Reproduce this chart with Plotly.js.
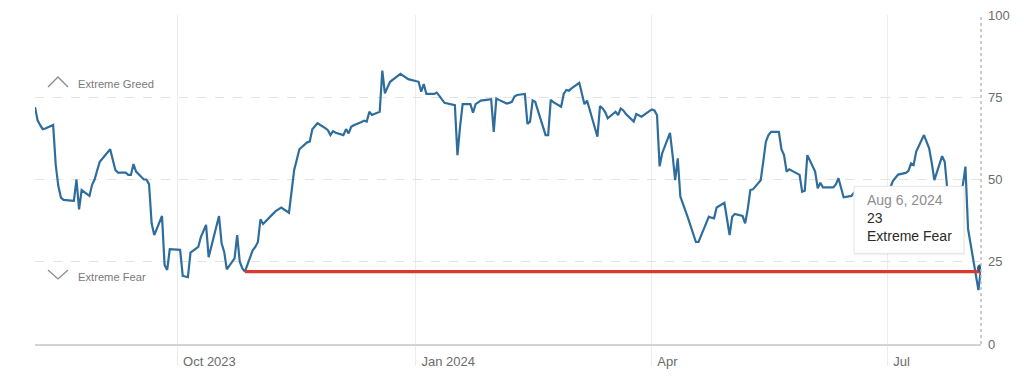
<!DOCTYPE html>
<html>
<head>
<meta charset="utf-8">
<script src="https://cdn.plot.ly/plotly-3.0.1.min.js"></script>
<style>
  html, body { margin: 0; padding: 0; background: #ffffff; }
  #chart { width: 1024px; height: 380px; }
</style>
</head>
<body>
<div id="chart"></div>
<script>
// ---- Data ----
const dates = [
  "2023-08-07","2023-08-08","2023-08-09","2023-08-10","2023-08-11","2023-08-14","2023-08-15","2023-08-16","2023-08-17","2023-08-18",
  "2023-08-21","2023-08-22","2023-08-23","2023-08-24","2023-08-25","2023-08-28","2023-08-29","2023-08-30","2023-08-31","2023-09-01",
  "2023-09-05","2023-09-06","2023-09-07","2023-09-08","2023-09-11","2023-09-12","2023-09-13","2023-09-14","2023-09-15","2023-09-18",
  "2023-09-19","2023-09-20","2023-09-21","2023-09-22","2023-09-25","2023-09-26","2023-09-27","2023-09-28","2023-09-29","2023-10-02",
  "2023-10-03","2023-10-04","2023-10-05","2023-10-06","2023-10-09","2023-10-10","2023-10-11","2023-10-12","2023-10-13","2023-10-16",
  "2023-10-17","2023-10-18","2023-10-19","2023-10-20","2023-10-23","2023-10-24","2023-10-25","2023-10-26","2023-10-27","2023-10-30",
  "2023-10-31","2023-11-01","2023-11-02","2023-11-03","2023-11-06","2023-11-07","2023-11-08","2023-11-09","2023-11-10","2023-11-13",
  "2023-11-14","2023-11-15","2023-11-16","2023-11-17","2023-11-20","2023-11-21","2023-11-22","2023-11-24","2023-11-27","2023-11-28",
  "2023-11-29","2023-11-30","2023-12-01","2023-12-04","2023-12-05","2023-12-06","2023-12-07","2023-12-08","2023-12-11","2023-12-12",
  "2023-12-13","2023-12-14","2023-12-15","2023-12-18","2023-12-19","2023-12-20","2023-12-21","2023-12-22","2023-12-26","2023-12-27",
  "2023-12-28","2023-12-29","2024-01-02","2024-01-03","2024-01-04","2024-01-05","2024-01-08","2024-01-09","2024-01-10","2024-01-11",
  "2024-01-12","2024-01-16","2024-01-17","2024-01-18","2024-01-19","2024-01-22","2024-01-23","2024-01-24","2024-01-25","2024-01-26",
  "2024-01-29","2024-01-30","2024-01-31","2024-02-01","2024-02-02","2024-02-05","2024-02-06","2024-02-07","2024-02-08","2024-02-09",
  "2024-02-12","2024-02-13","2024-02-14","2024-02-15","2024-02-16","2024-02-20","2024-02-21","2024-02-22","2024-02-23","2024-02-26",
  "2024-02-27","2024-02-28","2024-02-29","2024-03-01","2024-03-04","2024-03-05","2024-03-06","2024-03-07","2024-03-08","2024-03-11",
  "2024-03-12","2024-03-13","2024-03-14","2024-03-15","2024-03-18","2024-03-19","2024-03-20","2024-03-21","2024-03-22","2024-03-25",
  "2024-03-26","2024-03-27","2024-03-28","2024-04-01","2024-04-02","2024-04-03","2024-04-04","2024-04-05","2024-04-08","2024-04-09",
  "2024-04-10","2024-04-11","2024-04-12","2024-04-15","2024-04-16","2024-04-17","2024-04-18","2024-04-19","2024-04-22","2024-04-23",
  "2024-04-24","2024-04-25","2024-04-26","2024-04-29","2024-04-30","2024-05-01","2024-05-02","2024-05-03","2024-05-06","2024-05-07",
  "2024-05-08","2024-05-09","2024-05-10","2024-05-13","2024-05-14","2024-05-15","2024-05-16","2024-05-17","2024-05-20","2024-05-21",
  "2024-05-22","2024-05-23","2024-05-24","2024-05-28","2024-05-29","2024-05-30","2024-05-31","2024-06-03","2024-06-04","2024-06-05",
  "2024-06-06","2024-06-07","2024-06-10","2024-06-11","2024-06-12","2024-06-13","2024-06-14","2024-06-17","2024-06-18","2024-06-20",
  "2024-06-21","2024-06-24","2024-06-25","2024-06-26","2024-06-27","2024-06-28","2024-07-01","2024-07-02","2024-07-03","2024-07-05",
  "2024-07-08","2024-07-09","2024-07-10","2024-07-11","2024-07-12","2024-07-15","2024-07-16","2024-07-17","2024-07-18","2024-07-19",
  "2024-07-22","2024-07-23","2024-07-24","2024-07-25","2024-07-26","2024-07-29","2024-07-30","2024-07-31","2024-08-01","2024-08-02",
  "2024-08-05","2024-08-06"
];
const scores = [
  72,68,66.5,65.3,65.5,66.6,54.4,48,44.5,43.8,
  43.6,43.5,50,40.9,46.8,45,48.3,50,52.8,55.4,
  59.2,56,52.9,52.1,52.1,51.4,51.4,54.7,52.4,50,
  50,48.6,36.7,33.1,38.9,24,22.5,28.8,28.7,28.6,
  20.7,20.5,20.3,27.8,29.5,32.5,34.5,36.2,26.4,36,
  38.9,30.6,28,22.7,26,33.1,25,23,22,28.5,
  29.5,31,37.9,36.5,38.7,39.7,40.5,41,41.5,39.9,
  46.5,52.9,56,59.2,61.3,61.5,65.3,67.1,65.6,65,
  63.5,64.7,64.2,63.5,65.3,64,66,66.5,67.5,67.9,
  67.6,70.6,69.6,70.6,83.1,76.2,78,79.7,82.1,81.6,
  81,80.5,79.7,76.7,79,76,76,76.4,75.4,74.3,
  73.3,72.6,57.4,66,72.9,72.9,70.3,72.9,73.5,74,
  74.3,74.4,64.5,74.6,74.2,73.1,73.3,73.6,75.2,75.7,
  76,66.9,67.6,74,73.6,63.5,63.5,74.2,73.5,72.1,
  76,77.2,77,77.7,79.4,76,72.9,74,71.1,63,
  72.3,71.6,70.5,68.6,70.6,69.6,71.6,71,69.9,67.6,
  69.9,69.5,69.1,71.3,71,69.5,54,58,64.2,57.5,
  49.8,56.4,44.8,38.2,36,33.5,31,31,37,38.7,
  38.4,38.2,41.5,42.9,38,33.1,38.7,39.5,38.9,36.7,
  41,46.8,47,49.8,55.5,61.5,63.5,64.5,64.5,59.2,
  57.4,52.4,53.1,51.4,46.3,46.6,57.4,52.4,47.3,49,
  47.6,47.6,47.6,48.5,50.4,47.5,44.6,45,46,46.5,
  46,47,47.5,47,46.5,46.8,47,47.5,49.5,51.5,
  52,52.6,54.9,54.4,58.5,63.5,61.5,59.5,55,49.8,
  57.1,55.4,47,44,45,46,48.3,53.9,35,30,
  16.4,23
];
const refLevel = 22;               // red reference line level
const refStart = "2023-10-27";     // red reference line start
const xTickDates = ["2023-10-01", "2024-01-01", "2024-04-01", "2024-07-01"];
const xTickLabels = ["Oct 2023", "Jan 2024", "Apr", "Jul"];
const yTickVals = [0, 25, 50, 75, 100];
const yTickLabels = ["0", "25", "50", "75", "100"];
const zoneLabels = ["Extreme Greed", "Extreme Fear"];
const zoneLabelLevels = [79, 20.5];
const tipDate = "Aug 6, 2024";
const tipRating = "Extreme Fear";

// ---- Chart ----
const lastDate = dates[dates.length - 1];
const lastVal = scores[scores.length - 1];
const FONT = "Liberation Sans, Arial, Helvetica, sans-serif";

const traces = [
  {
    x: dates, y: scores, type: "scatter", mode: "lines",
    line: { color: "#2e6d9c", width: 2.2 },
    hoverinfo: "skip"
  },
  {
    x: [refStart, lastDate], y: [refLevel, refLevel], type: "scatter", mode: "lines",
    line: { color: "#d93a2f", width: 3.2 },
    hoverinfo: "skip"
  },
  {
    x: [lastDate], y: [lastVal], type: "scatter", mode: "markers",
    marker: { color: "#2a5b86", size: 8 },
    hoverinfo: "skip"
  }
];

const layout = {
  width: 1024, height: 380,
  margin: { l: 35, r: 43, t: 15, b: 36 },
  paper_bgcolor: "#ffffff", plot_bgcolor: "#ffffff",
  showlegend: false,
  hovermode: false,
  font: { family: FONT, color: "#666666", size: 13 },
  xaxis: {
    type: "date",
    range: [dates[0], lastDate],
    tickmode: "array",
    tickvals: xTickDates,
    ticktext: xTickLabels,
    ticks: "outside", ticklen: 20, tickcolor: "#ececec", tickwidth: 1,
    ticklabelposition: "outside right",
    ticklabelstandoff: 4,
    ticklabelshift: 4,
    tickfont: { size: 13, color: "#6b6b6b", family: FONT },
    showgrid: true, gridcolor: "#ececec", gridwidth: 1,
    showline: true, linecolor: "#d3d3d3", linewidth: 2,
    zeroline: false,
    fixedrange: true
  },
  yaxis: {
    side: "right",
    range: [0, 100],
    tickmode: "array",
    tickvals: yTickVals,
    ticktext: yTickLabels,
    ticks: "",
    ticklabelstandoff: 6,
    tickfont: { size: 13, color: "#6b6b6b", family: FONT },
    showgrid: true, gridcolor: "#e2e2e2", griddash: "dash", gridwidth: 1,
    showline: false,
    zeroline: false,
    fixedrange: true
  },
  shapes: [
    { type: "line", xref: "paper", yref: "paper", x0: 1, x1: 1, y0: 0, y1: 1,
      line: { color: "#bdbdbd", width: 1.5, dash: "dot" }, layer: "above" },
    { type: "path", xref: "paper", yref: "paper", xsizemode: "pixel", ysizemode: "pixel",
      xanchor: 0, yanchor: 0, path: "M13,257 L23,267 L33,257",
      line: { color: "#8a8a8a", width: 1.3 } },
    { type: "path", xref: "paper", yref: "paper", xsizemode: "pixel", ysizemode: "pixel",
      xanchor: 0, yanchor: 0, path: "M13,74 L23,65 L33,74",
      line: { color: "#8a8a8a", width: 1.3 } },
    { type: "rect", xref: "x", yref: "y", xsizemode: "pixel", ysizemode: "pixel",
      xanchor: lastDate, yanchor: lastVal, x0: -127, x1: -16, y0: 13, y1: 81,
      fillcolor: "rgba(0,0,0,0.05)", line: { width: 0 }, layer: "above" },
    { type: "rect", xref: "x", yref: "y", xsizemode: "pixel", ysizemode: "pixel",
      xanchor: lastDate, yanchor: lastVal, x0: -127, x1: -17, y0: 15, y1: 82,
      fillcolor: "#ffffff", line: { color: "#e6e6e6", width: 1 }, layer: "above" }
  ],
  annotations: [
    { xref: "paper", yref: "y", x: 0.0434, y: zoneLabelLevels[0], xanchor: "left", yanchor: "middle",
      text: zoneLabels[0], showarrow: false, font: { size: 11.2, color: "#7a7a7a", family: FONT } },
    { xref: "paper", yref: "y", x: 0.0434, y: zoneLabelLevels[1], xanchor: "left", yanchor: "middle",
      text: zoneLabels[1], showarrow: false, font: { size: 11.2, color: "#7a7a7a", family: FONT } },
    { xref: "x", yref: "y", x: lastDate, y: lastVal, xanchor: "left", yanchor: "top",
      xshift: -116, yshift: 78, align: "left", showarrow: false,
      text: '<span style="color:#8e8e8e">' + tipDate + '</span><br>' + lastVal + '<br>' + tipRating,
      font: { size: 14, color: "#2b2b2b", family: FONT } }
  ]
};

Plotly.newPlot("chart", traces, layout, { displayModeBar: false, staticPlot: true });
</script>
</body>
</html>
